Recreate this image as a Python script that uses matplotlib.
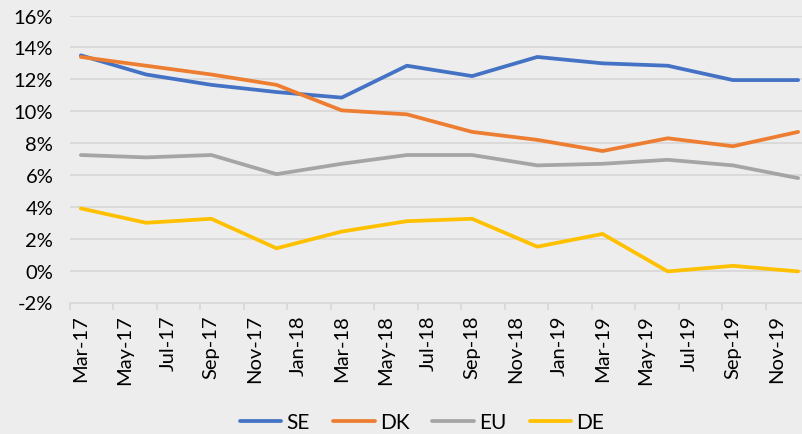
import matplotlib
matplotlib.use("Agg")
import matplotlib.pyplot as plt
import numpy as np

plt.rcParams['font.family'] = ['Lato', 'DejaVu Sans']

# monthly axis Mar-17 .. Dec-19 (34 months), quarterly data
month_labels = ['Mar-17', 'May-17', 'Jul-17', 'Sep-17', 'Nov-17', 'Jan-18', 'Mar-18',
                'May-18', 'Jul-18', 'Sep-18', 'Nov-18', 'Jan-19', 'Mar-19', 'May-19',
                'Jul-19', 'Sep-19', 'Nov-19']
quarters = ['Mar-17', 'Jun-17', 'Sep-17', 'Dec-17', 'Mar-18', 'Jun-18', 'Sep-18',
            'Dec-18', 'Mar-19', 'Jun-19', 'Sep-19', 'Dec-19']
se = [13.5, 12.3, 11.65, 11.2, 10.85, 12.85, 12.2, 13.4, 13.0, 12.85, 11.95, 11.95]
dk = [13.4, 12.85, 12.3, 11.65, 10.05, 9.8, 8.7, 8.2, 7.5, 8.3, 7.8, 8.7]
eu = [7.25, 7.1, 7.25, 6.05, 6.7, 7.25, 7.25, 6.6, 6.7, 6.95, 6.6, 5.8]
de = [3.9, 3.0, 3.25, 1.4, 2.45, 3.1, 3.25, 1.5, 2.3, -0.05, 0.3, -0.05]

n_months = 34
qx = np.arange(len(quarters)) * 3

W, H = 803, 435
fig = plt.figure(figsize=(W / 100, H / 100), dpi=100)
fig.patch.set_facecolor('#EDEDED')
left_px, right_px, top_px, bot_px = 70, 809, 16.5, 303.5
ax = fig.add_axes([left_px / W, 1 - bot_px / H, (right_px - left_px) / W, (bot_px - top_px) / H])
ax.set_facecolor('#EDEDED')

colors = {'SE': '#4472C4', 'DK': '#ED7D31', 'EU': '#A5A5A5', 'DE': '#FFC000'}
for name, vals in [('SE', se), ('DK', dk), ('EU', eu), ('DE', de)]:
    ax.plot(qx, vals, color=colors[name], lw=2.7, label=name, solid_capstyle='round',
            solid_joinstyle='round', zorder=3)

ax.set_xlim(-0.5, n_months - 0.5)
ax.set_ylim(-2, 16)
ax.set_yticks(np.arange(-2, 17, 2))
ax.set_yticklabels([f'{v}%' for v in range(-2, 17, 2)], fontsize=14.5)
ax.yaxis.grid(True, color='#D9D9D9', lw=1.3, zorder=0)
ax.tick_params(axis='y', length=0, pad=12)

ax.set_xticks(np.arange(-0.5, n_months, 2))
ax.set_xticklabels([])
ax.tick_params(axis='x', which='major', length=5, color='#D9D9D9', width=1.3)
ax.set_xticks(np.arange(0, n_months, 2), minor=True)
ax.set_xticklabels(month_labels, minor=True)
ax.tick_params(axis='x', which='minor', length=0, pad=8.5, labelrotation=90, labelsize=14.5)

for s in ['left', 'right', 'top']:
    ax.spines[s].set_visible(False)
ax.spines['bottom'].set_color('#D9D9D9')
ax.spines['bottom'].set_linewidth(1.3)
ax.spines['bottom'].set_position(('data', -2))

leg = fig.legend(loc='center', bbox_to_anchor=(422 / W, 1 - 423 / H), ncol=4, frameon=False,
                 fontsize=15, handlelength=2.0, columnspacing=1.1, handletextpad=0.25)

fig.savefig('out.png', dpi=100, facecolor=fig.get_facecolor())
